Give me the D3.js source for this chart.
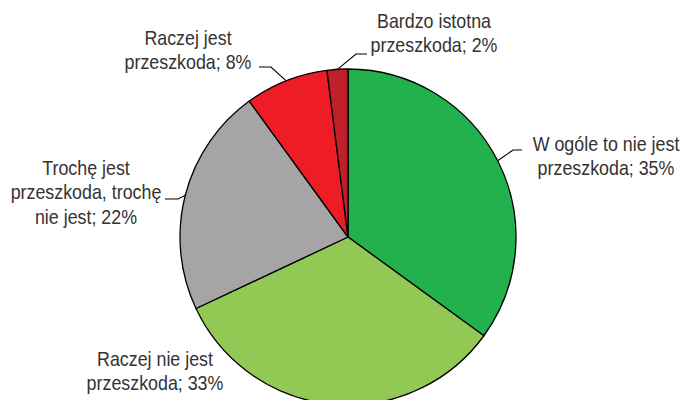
<!DOCTYPE html>
<html>
<head>
<meta charset="utf-8">
<script src="https://cdn.jsdelivr.net/npm/d3@7"></script>
<style>
  body { margin: 0; background: #fff; }
  text { font-family: "Liberation Sans", Arial, sans-serif; font-size: 21px; fill: #333; }
</style>
</head>
<body>
<svg id="chart" width="683" height="400"></svg>
<script>
// categories, clockwise from 12 o'clock
var categories = [
  ["W ogóle to nie jest", "przeszkoda; 35%"],
  ["Raczej nie jest", "przeszkoda; 33%"],
  ["Trochę jest", "przeszkoda, trochę", "nie jest; 22%"],
  ["Raczej jest", "przeszkoda; 8%"],
  ["Bardzo istotna", "przeszkoda; 2%"]
]
var values = [35, 33, 22, 8, 2]
var colors = ["#22b14c", "#92c955", "#a5a5a5", "#ee1d25", "#c0202a"]

// label placement: text center x, first baseline y, leader elbow and end of horizontal stub
var labelPos = [
  {x: 606, y: 151, leader: true, elbow: [513, 150], end: 522},
  {x: 155, y: 366, leader: false},
  {x: 86,  y: 175, leader: true, elbow: [178, 199], end: 165},
  {x: 188, y: 45,  leader: true, elbow: [271, 67], end: 259},
  {x: 434, y: 28,  leader: true, elbow: [356, 54], end: 367}
]

var svg = d3.select("#chart"),
	cx = 348, cy = 237, r = 168;

var pie = d3.pie().sort(null).value(d => d)
var arcs = pie(values)
var arc = d3.arc().innerRadius(0).outerRadius(r)

var g = svg.append("g").attr("transform", `translate(${cx},${cy})`)

g.selectAll("path")
	.data(arcs)
.enter().append("path")
	.attr("d", arc)
	.attr("fill", (d, i) => colors[i])
	.attr("stroke", "#000")
	.attr("stroke-width", 1.3)
	.attr("stroke-linejoin", "round")

// leader lines
arcs.forEach(function(d, i) {
	var p = labelPos[i]
	if (!p.leader) return
	var a = (d.startAngle + d.endAngle) / 2
	var sx = cx + Math.sin(a) * r, sy = cy - Math.cos(a) * r
	svg.append("polyline")
		.attr("points", [[sx, sy], p.elbow, [p.end, p.elbow[1]]].map(q => q.join(",")).join(" "))
		.attr("fill", "none")
		.attr("stroke", "#000")
		.attr("stroke-width", 1.1)
})

// labels (narrow face: Liberation Sans squeezed horizontally)
categories.forEach(function(lines, i) {
	var p = labelPos[i]
	var t = svg.append("text")
		.attr("text-anchor", "middle")
		.attr("transform", `translate(${p.x},${p.y}) scale(0.85,1)`)
	t.selectAll("tspan")
		.data(lines)
	.enter().append("tspan")
		.attr("x", 0)
		.attr("dy", (l, j) => j ? 24.5 : 0)
		.text(l => l)
})
</script>
</body>
</html>
